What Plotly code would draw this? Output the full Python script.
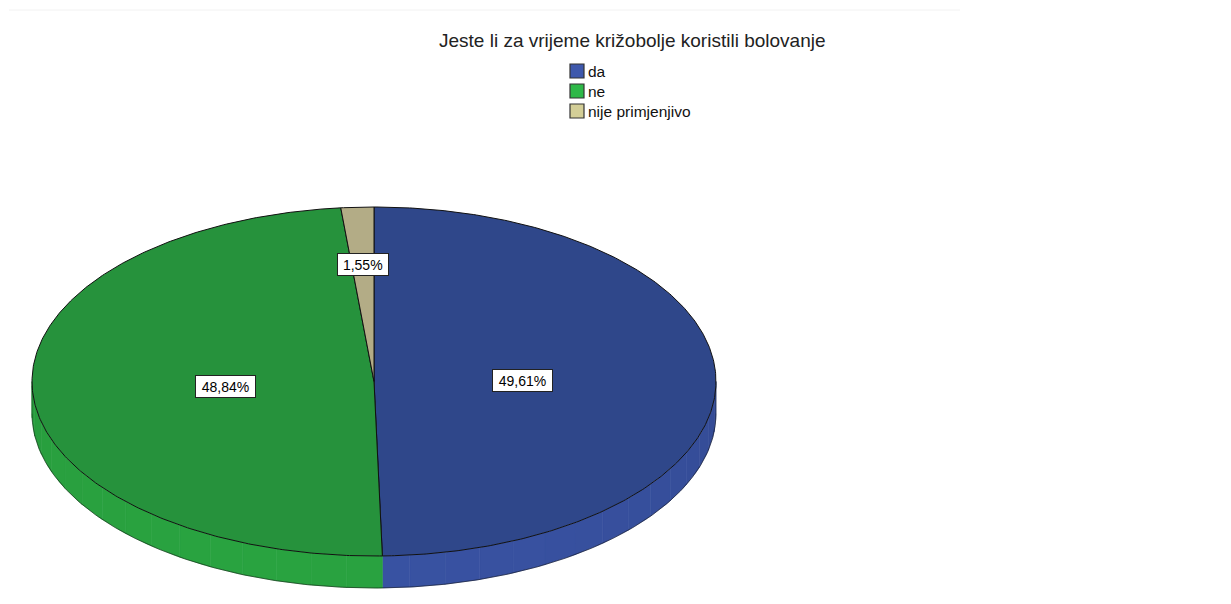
import numpy as np
import plotly.graph_objects as go

# ---------------- data ----------------
categories = ["da", "ne", "nije primjenjivo"]
percentages = [49.61, 48.84, 1.55]
title_text = "Jeste li za vrijeme križobolje koristili bolovanje"

# ---------------- styles ----------------
top_colors = ["#2F478A", "#26923C", "#B3AC86"]
side_colors = ["#3851A0", "#29A03F", "#C0B992"]
legend_colors = ["#3E58AC", "#2EB848", "#D3CE97"]

W, H = 1231, 604
BODY = 8  # default page margin of the html body
CX, CY, RX, RY, DEPTH = 374.0, 381.5, 342.0, 174.5, 32.0
FONT = "Liberation Sans, Arial, sans-serif"


def arc(t0, t1, y_off=0.0, n=None):
    if n is None:
        n = max(2, int(abs(t1 - t0) / 0.5) + 2)
    t = np.radians(np.linspace(t0, t1, n))
    return CX + RX * np.sin(t), CY - RY * np.cos(t) + y_off


def shade(hex_color, f):
    h = hex_color.lstrip("#")
    r, g, b = (int(h[i:i + 2], 16) for i in (0, 2, 4))
    r, g, b = (int(max(0, min(255, c * f))) for c in (r, g, b))
    return f"rgb({r},{g},{b})"


fig = go.Figure()

total = sum(percentages)
bounds = np.concatenate([[0.0], np.cumsum(percentages) / total * 360.0])

# ---- side (visible front part: 90..270 deg, clockwise from 12 o'clock) ----
for i, cat in enumerate(categories):
    a0, a1 = bounds[i], bounds[i + 1]
    s0, s1 = max(a0, 90.0), min(a1, 270.0)
    if s1 <= s0:
        continue
    edges = np.arange(s0, s1, 6.0).tolist() + [s1]
    for e0, e1 in zip(edges[:-1], edges[1:]):
        mid = np.radians((e0 + e1) / 2)
        f = 0.96 + 0.06 * np.cos(mid - np.radians(200))
        xt, yt = arc(e0, e1)
        xb, yb = arc(e1, e0, DEPTH)
        fig.add_trace(go.Scatter(
            x=np.concatenate([xt, xb, xt[:1]]), y=np.concatenate([yt, yb, yt[:1]]),
            mode="lines", fill="toself", fillcolor=shade(side_colors[i], f),
            line=dict(width=0.6, color=shade(side_colors[i], f)),
            hoverinfo="skip", showlegend=False))

# bottom outline of the side
xb, yb = arc(90, 270, DEPTH)
fig.add_trace(go.Scatter(x=xb, y=yb, mode="lines", line=dict(color="rgba(0,0,0,0.5)", width=1),
                         hoverinfo="skip", showlegend=False))
for ang in (90, 270):
    xe, ye = arc(ang, ang, 0, 2)
    fig.add_trace(go.Scatter(x=[xe[0], xe[0]], y=[ye[0], ye[0] + DEPTH], mode="lines",
                             line=dict(color="rgba(0,0,0,0.35)", width=1),
                             hoverinfo="skip", showlegend=False))

# ---- top faces ----
for i, cat in enumerate(categories):
    a0, a1 = bounds[i], bounds[i + 1]
    xa, ya = arc(a0, a1)
    fig.add_trace(go.Scatter(
        x=np.concatenate([[CX], xa, [CX]]), y=np.concatenate([[CY], ya, [CY]]),
        mode="lines", fill="toself", fillcolor=top_colors[i],
        line=dict(color="#111111", width=1),
        name=cat, hoverinfo="text",
        text=f"{cat}: {percentages[i]:.2f}%".replace(".", ","),
        showlegend=False))

# ---- value labels ----
annotations = []
for i, cat in enumerate(categories):
    a0, a1 = bounds[i], bounds[i + 1]
    mid = np.radians((a0 + a1) / 2)
    frac = 0.435 if percentages[i] >= 5 else 0.67
    lx = CX + RX * frac * np.sin(mid)
    ly = CY - RY * frac * np.cos(mid)
    txt = f"{percentages[i]:.2f}".replace(".", ",") + "%"
    annotations.append(dict(
        x=lx, y=ly, xref="x", yref="y", text=txt, showarrow=False,
        font=dict(family=FONT, size=14, color="#000000"),
        bgcolor="#FFFFFF", bordercolor="#222222", borderwidth=1, borderpad=1,
        width=9.5 * len(txt), height=19))

# ---- title ----
annotations.append(dict(x=632.5, y=40, xref="x", yref="y", text=title_text, showarrow=False,
                        font=dict(family=FONT, size=19, color="#222222")))

# ---- legend (manual, SPSS style) ----
shapes = []
leg_x, leg_y0, leg_dy, sq = 570, 71, 20, 14
for i, cat in enumerate(categories):
    yc = leg_y0 + i * leg_dy
    shapes.append(dict(type="rect", xref="x", yref="y", x0=leg_x, x1=leg_x + sq,
                       y0=yc - sq / 2, y1=yc + sq / 2, fillcolor=legend_colors[i],
                       line=dict(color="#333333", width=1.2)))
    annotations.append(dict(x=leg_x + sq + 2, y=yc, xref="x", yref="y", text=cat,
                            showarrow=False, xanchor="left", yanchor="middle",
                            font=dict(family=FONT, size=15.5, color="#111111")))

# faint frame line at top
shapes.append(dict(type="line", xref="x", yref="y", x0=9, x1=960, y0=10, y1=10,
                   line=dict(color="#F2F2F2", width=1)))

fig.update_layout(
    width=W - 2 * BODY, height=H - 2 * BODY, margin=dict(l=0, r=0, t=0, b=0),
    paper_bgcolor="#FFFFFF", plot_bgcolor="#FFFFFF",
    xaxis=dict(range=[BODY, W - BODY], visible=False, fixedrange=True),
    yaxis=dict(range=[H - BODY, BODY], visible=False, fixedrange=True),
    annotations=annotations, shapes=shapes, showlegend=False,
)

fig.write_html("out.html")
